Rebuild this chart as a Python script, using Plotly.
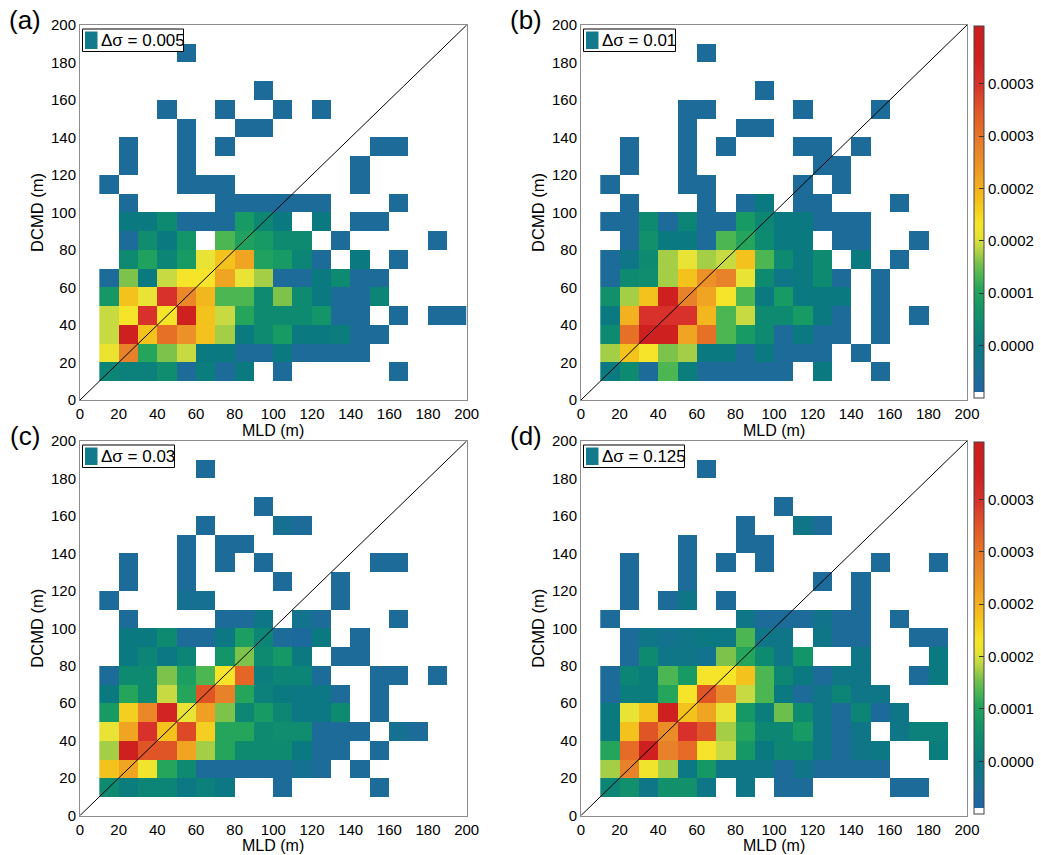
import plotly.graph_objects as go

_ = None  # empty bin

# Bin centres (m): MLD on x, DCMD on y, 10 m bins from 10 to 200 m
mld_centres = [15, 25, 35, 45, 55, 65, 75, 85, 95, 105, 115, 125, 135, 145, 155, 165, 175, 185, 195]
dcmd_centres = [15, 25, 35, 45, 55, 65, 75, 85, 95, 105, 115, 125, 135, 145, 155, 165, 175, 185, 195]
axis_ticks = [0, 20, 40, 60, 80, 100, 120, 140, 160, 180, 200]

# Joint probability density, in units of 1e-5; rows go from DCMD 10-20 m upwards
density_a = [
    [5.5, 5, 5, 7, 0.3, 4.5, 0.3, 4, _, 0.3, _, _, _, _, _, 0.3, _, _, _],
    [17, 26.5, 10.5, 13.5, 15.5, 4, 4, 0.3, 0.3, 4, 0.3, 0.3, 0.3, 0.3, _, _, _, _, _],
    [15.5, 37, 20.5, 28.5, 25, 20.5, 14.5, 4, 6.5, 9, 4, 4, 4.5, 0.3, 0.3, _, _, _, _],
    [15.5, 18, 34, 18, 37, 20.5, 15.5, 10.5, 6.5, 6.5, 6.5, 8, 0.3, 0.3, _, 0.3, _, 0.3, 0.3],
    [8.5, 20.5, 16.5, 34, 26, 21.5, 12, 12, 6.5, 13.5, 6.5, 4, 0.3, 0.3, 5.5, _, _, _, _],
    [0.3, 13.5, 4, 15.5, 18, 18, 23, 16.5, 14.5, 0.3, 0.3, 4, 6.5, 0.3, 0.3, _, _, _, _],
    [_, 6.5, 10, 5.5, 9, 16.5, 20.5, 23, 10, 9, 5.5, 0.3, _, 4, _, 0.3, _, _, _],
    [_, 0.3, 7, 4, 8, _, 12, 10, 9, 6.5, 6.5, _, 0.3, _, _, _, _, 0.3, _],
    [_, 4, 4, 6.5, 0.3, 0.3, 0.3, 9, 6, 4, _, 4, _, 0.3, 0.3, _, _, _, _],
    [_, 0.3, _, _, _, _, 0.3, 0.3, 0.3, 0.3, 0.3, 0.3, _, _, _, 0.3, _, _, _],
    [0.3, _, _, _, 0.3, 0.3, 0.3, _, _, _, _, _, _, 0.3, _, _, _, _, _],
    [_, 0.3, _, _, 0.3, _, _, _, _, _, _, _, _, 0.3, _, _, _, _, _],
    [_, 0.3, _, _, 0.3, _, 0.3, _, _, _, _, _, _, _, 0.3, 0.3, _, _, _],
    [_, _, _, _, 0.3, _, _, 0.3, 0.3, _, _, _, _, _, _, _, _, _, _],
    [_, _, _, 0.3, _, _, 0.3, _, _, 0.3, _, 0.3, _, _, _, _, _, _, _],
    [_, _, _, _, _, _, _, _, 0.3, _, _, _, _, _, _, _, _, _, _],
    [_, _, _, _, _, _, _, _, _, _, _, _, _, _, _, _, _, _, _],
    [_, _, _, _, 0.3, _, _, _, _, _, _, _, _, _, _, _, _, _, _],
    [_, _, _, _, _, _, _, _, _, _, _, _, _, _, _, _, _, _, _],
]

density_b = [
    [4, 6.5, 0.3, 12, 4.5, 0.3, 0.3, 0.3, 0.3, 0.3, _, 4, _, _, 0.3, _, _, _, _],
    [14.5, 20.5, 18, 13.5, 14.5, 4, 4, 0.3, 4, 0.3, 0.3, 0.3, _, 0.3, _, _, _, _, _],
    [6.5, 28.5, 37, 37, 23, 28.5, 12, 9, 6.5, 0.3, 4, 0.3, 0.3, _, 0.3, _, _, _, _],
    [4, 22, 34, 34, 34, 21.5, 12, 15.5, 6.5, 6.5, 9, 4, 0.3, _, 0.3, _, 0.3, _, _],
    [7.5, 14.5, 20.5, 37, 26.5, 23, 18, 12, 4, 9, 4, 4, 4, _, 0.3, _, _, _, _],
    [0.3, 6.5, 7, 14.5, 20.5, 25, 26.5, 16.5, 6.5, 3, 4, 6.5, 0.3, _, 0.3, _, _, _, _],
    [0.3, 3, 6.5, 14.5, 16.5, 14.5, 15.5, 20.5, 12, 6.5, 4, 6.5, _, 4, _, 0.3, _, _, _],
    [_, 0.3, 7.5, 4, 4, 0.3, 12, 10.5, 6.5, 4, 4, _, 0.3, 0.3, _, _, 0.3, _, _],
    [0.3, 0.3, 6.5, 0.3, 5.5, 0.3, 0.3, 9, 6, 4, 4, 0.3, 0.3, 0.3, _, _, _, _, _],
    [_, 0.3, _, _, _, 0.3, _, 0.3, 4, _, 0.3, 0.3, _, _, _, 0.3, _, _, _],
    [0.3, _, _, _, 0.3, 0.3, _, _, _, _, 0.3, _, 0.3, _, _, _, _, _, _],
    [_, 0.3, _, _, 0.3, _, _, _, _, _, _, 0.3, 0.3, _, _, _, _, _, _],
    [_, 0.3, _, _, 0.3, _, 0.3, _, _, _, 0.3, 0.3, _, 0.3, _, _, _, _, _],
    [_, _, _, _, 0.3, _, _, 0.3, 0.3, _, _, _, _, _, _, _, _, _, _],
    [_, _, _, _, 0.3, 0.3, _, _, _, _, 0.3, _, _, _, 0.3, _, _, _, _],
    [_, _, _, _, _, _, _, _, 0.3, _, _, _, _, _, _, _, _, _, _],
    [_, _, _, _, _, _, _, _, _, _, _, _, _, _, _, _, _, _, _],
    [_, _, _, _, _, 0.3, _, _, _, _, _, _, _, _, _, _, _, _, _],
    [_, _, _, _, _, _, _, _, _, _, _, _, _, _, _, _, _, _, _],
]

density_c = [
    [6.5, 4.5, 5.5, 5.5, 3.5, 5, 3.5, _, _, 0.3, _, _, _, _, 0.3, _, _, _, _],
    [20.5, 23, 17.5, 10.5, 6.5, 0.3, 0.3, 0.3, 0.3, 0.3, 1.5, 0.3, _, 0.3, _, _, _, _, _],
    [14.5, 37, 31, 31, 23, 14.5, 10.5, 6.5, 6.5, 6.5, 4, 0.3, 0.3, _, 0.3, _, _, _, _],
    [16.5, 23, 34, 20.5, 32, 19.5, 10.5, 10.5, 6.5, 7, 7, 0.3, 0.3, 0.3, _, 1.5, 0.3, _, _],
    [9, 19.5, 26, 36, 16.5, 23.5, 13.5, 6, 9, 6, 3.5, 3.5, 6.5, _, 0.3, _, _, _, _],
    [4, 10.5, 6.5, 15.5, 10.5, 31, 26.5, 10.5, 5, 4, 3.5, 3.5, 0.3, _, 0.3, _, _, _, _],
    [0.3, 6.5, 6.5, 13.5, 9.5, 12, 18, 29.5, 4.5, 5.5, 5.5, 0.5, _, _, 0.3, 0.3, _, 0.3, _],
    [_, 4, 5.5, 3.5, 5.5, _, 8, 13.5, 6.5, 8.5, 4, _, 0.3, 0.3, _, _, _, _, _],
    [_, 4, 4, 6.5, 0.3, 0.3, 3.5, 9.5, 5.5, 0.3, 0, 4, _, 0.3, _, _, _, _, _],
    [_, 0.3, _, _, _, _, 0.3, 0.3, 3, _, 2, 0.3, _, _, _, 0.3, _, _, _],
    [0.3, _, _, _, 1.5, 1.5, _, _, _, _, _, _, 0.3, _, _, _, _, _, _],
    [_, 0.3, _, _, 0.3, _, _, _, _, 0.3, _, _, 0.3, _, _, _, _, _, _],
    [_, 0.3, _, _, 0.3, _, 0.3, _, 0.3, _, _, _, _, _, 0.3, 0.3, _, _, _],
    [_, _, _, _, 0.3, _, 0.3, 0.3, _, _, _, _, _, _, _, _, _, _, _],
    [_, _, _, _, _, 0.3, _, _, _, 1.5, 0.3, _, _, _, _, _, _, _, _],
    [_, _, _, _, _, _, _, _, 0.3, _, _, _, _, _, _, _, _, _, _],
    [_, _, _, _, _, _, _, _, _, _, _, _, _, _, _, _, _, _, _],
    [_, _, _, _, _, 0.3, _, _, _, _, _, _, _, _, _, _, _, _, _],
    [_, _, _, _, _, _, _, _, _, _, _, _, _, _, _, _, _, _, _],
]

density_d = [
    [5.5, 7.5, 3, 7.5, 7.5, 3, _, 3, _, 0.3, 0.3, _, _, _, _, 0.3, 0.3, _, _],
    [14.5, 26.5, 17.5, 14.5, 3.5, 8.5, 3, 3, 3, 0.3, 3, 0.3, 0.3, 0.3, 0.3, _, _, _, _],
    [10.5, 29, 37, 26.5, 29, 18, 15.5, 8.5, 4, 6, 6, 3, 0.3, 3, 3.5, _, _, 4.5, _],
    [4, 20.5, 31, 25.5, 34, 31, 14.5, 10.5, 6, 6, 9, 3, 0.3, 3, _, 3, 5, 5, _],
    [4, 16.5, 20.5, 37, 20.5, 23, 16.5, 8.5, 4.5, 13, 6.5, 3, 0.3, 5.5, 0, 3, _, _, _],
    [0.3, 4.5, 4.5, 10.5, 18, 31, 26, 15.5, 12, 4, 0.3, 3, 5.5, 3, 3, _, _, _, _],
    [0.3, 5.5, 4.5, 12, 9, 18, 18, 20.5, 12, 6, 4, 0.3, 3, 3, _, _, 0.3, 4, _],
    [_, 0.3, 6.5, 3, 3, 2, 13.5, 10.5, 6.5, 3, 8, _, _, 3, _, _, _, 4, _],
    [_, 0.3, 3, 2, 3, 4, 3.5, 12, 3, 3, _, 3, 0.3, 0.3, _, _, 0.3, 0.3, _],
    [0.3, _, _, _, _, _, _, 3, 0.3, 0.3, 0.3, 2.5, 0.3, 0.3, _, 0.3, _, _, _],
    [_, 0.3, _, 0.3, 3, _, 0.3, _, _, _, _, _, _, 0.3, _, _, _, _, _],
    [_, 0.3, _, _, 0.3, _, _, _, _, _, _, 0.3, _, 0.3, _, _, _, _, _],
    [_, 0.3, _, _, 0.3, _, 0.3, _, 0.3, _, _, _, _, _, 0.3, _, _, 0.3, _],
    [_, _, _, _, 0.3, _, _, 0.3, 0.3, _, _, _, _, _, _, _, _, _, _],
    [_, _, _, _, _, _, _, 0.3, _, _, 3, 0.3, _, _, _, _, _, _, _],
    [_, _, _, _, _, _, _, _, _, 0.3, _, _, _, _, _, _, _, _, _],
    [_, _, _, _, _, _, _, _, _, _, _, _, _, _, _, _, _, _, _],
    [_, _, _, _, _, 0.3, _, _, _, _, _, _, _, _, _, _, _, _, _],
    [_, _, _, _, _, _, _, _, _, _, _, _, _, _, _, _, _, _, _],
]

panel_letters = ["(a)", "(b)", "(c)", "(d)"]
delta_sigma = ["0.005", "0.01", "0.03", "0.125"]
cbar_ticks = [0.00004, 0.0001, 0.00016, 0.00022, 0.00028, 0.00034]
z_min, z_max = -0.00002, 0.000406

W, H = 1041, 855
FONT = "Liberation Sans, Arial, Helvetica, sans-serif"


def scaled(grid):
    return [[None if v is None else v * 1e-5 for v in row] for row in grid]


def px_x(p):
    return p / W


def px_y(p):
    return 1 - p / H


# white bottom step for empty bins, then blue -> teal -> green -> yellow -> orange -> red
colorscale = [
    [0.0, "#ffffff"], [0.016, "#ffffff"],
    [0.0161, "#1f66a2"], [0.06, "#1b6c98"], [0.10, "#12738c"],
    [0.141, "#0a7a80"], [0.20, "#0e8a70"], [0.258, "#189a64"],
    [0.293, "#25a45c"], [0.329, "#4cb652"], [0.364, "#7cc24b"],
    [0.387, "#a4ce46"], [0.411, "#c8da42"], [0.434, "#e8e334"],
    [0.469, "#f5e42a"], [0.528, "#f4c21c"], [0.587, "#f0a522"],
    [0.669, "#e8822a"], [0.716, "#e67026"], [0.775, "#e05526"],
    [0.845, "#d8302a"], [0.915, "#cf2020"], [1.0, "#cc1e1e"],
]

# plot-area pixel boxes: (left, right, top, bottom)
boxes = [
    (80, 466.7, 25, 400),
    (581, 967, 25, 400),
    (80, 466.7, 441, 815.5),
    (581, 967, 441, 815.5),
]
grids = [density_a, density_b, density_c, density_d]

fig = go.Figure()
layout = dict(
    width=W, height=H,
    margin=dict(l=0, r=0, t=0, b=0),
    paper_bgcolor="white", plot_bgcolor="white",
    font=dict(family=FONT, size=15, color="black"),
    showlegend=False,
)
shapes, annotations = [], []

for i, (grid, box) in enumerate(zip(grids, boxes)):
    n = "" if i == 0 else str(i + 1)
    left, right, top, bottom = box
    show_cb = i in (1, 3)
    cb = None
    if show_cb:
        cb = dict(
            x=px_x(974), xanchor="left", xpad=0,
            y=px_y((top + 1 + bottom - 2) / 2), yanchor="middle", ypad=0,
            len=bottom - top - 3, lenmode="pixels",
            thickness=10, thicknessmode="pixels",
            outlinewidth=1, outlinecolor="#444444",
            tickvals=cbar_ticks, tickformat=".4f",
            ticks="inside", ticklen=5, tickcolor="#333333",
            tickfont=dict(family=FONT, size=15),
        )
    fig.add_trace(go.Heatmap(
        x=mld_centres, y=dcmd_centres, z=scaled(grid),
        zmin=z_min, zmax=z_max, colorscale=colorscale,
        showscale=show_cb, colorbar=cb,
        xaxis="x" + n, yaxis="y" + n, hoverongaps=False,
    ))
    axis_common = dict(
        range=[0, 200], tickvals=axis_ticks, showgrid=False, zeroline=False,
        showline=True, mirror=True, linecolor="#8c8c8c", linewidth=1,
        ticks="", tickfont=dict(family=FONT, size=15), automargin=False,
    )
    layout["xaxis" + n] = dict(
        axis_common, domain=[px_x(left), px_x(right)], anchor="y" + n,
    )
    layout["yaxis" + n] = dict(
        axis_common, domain=[px_y(bottom), px_y(top)], anchor="x" + n,
        title=dict(text="DCMD (m)", font=dict(family=FONT, size=16.5), standoff=3),
    )
    # x-axis title placed just under the tick labels
    annotations.append(dict(
        text="MLD (m)", xref="paper", yref="paper",
        x=px_x((left + right) / 2), y=px_y(bottom + 30), xanchor="center", yanchor="middle",
        showarrow=False, borderpad=0, font=dict(family=FONT, size=16, color="black"),
    ))
    # 1:1 line
    shapes.append(dict(type="line", xref="x" + n, yref="y" + n, x0=0, y0=0, x1=200, y1=200,
                       line=dict(color="black", width=1), layer="above"))
    # legend-style key box
    bx0, by0 = left + 2.5, top + 4
    bx1 = bx0 + (101 if len(delta_sigma[i]) == 5 else 92)
    by1 = by0 + 22.5
    shapes.append(dict(type="rect", xref="paper", yref="paper",
                       x0=px_x(bx0), x1=px_x(bx1), y0=px_y(by1), y1=px_y(by0),
                       line=dict(color="black", width=1), fillcolor="white", layer="above"))
    shapes.append(dict(type="rect", xref="paper", yref="paper",
                       x0=px_x(bx0 + 2.5), x1=px_x(bx0 + 15), y0=px_y(by1 - 2.5), y1=px_y(by0 + 2.5),
                       line=dict(width=0), fillcolor="#127a8a", layer="above"))
    annotations.append(dict(
        text="Δσ = " + delta_sigma[i], xref="paper", yref="paper",
        x=px_x(bx0 + 16), y=px_y((by0 + by1) / 2), xanchor="left", yanchor="middle",
        showarrow=False, font=dict(family=FONT, size=17, color="black"),
    ))
    annotations.append(dict(
        text=panel_letters[i], xref="paper", yref="paper",
        x=px_x(left - 55), y=px_y(top - 5), xanchor="center", yanchor="middle",
        showarrow=False, font=dict(family=FONT, size=26, color="black"),
    ))

layout["shapes"] = shapes
layout["annotations"] = annotations
fig.update_layout(**layout)
fig.write_html("out.html")
